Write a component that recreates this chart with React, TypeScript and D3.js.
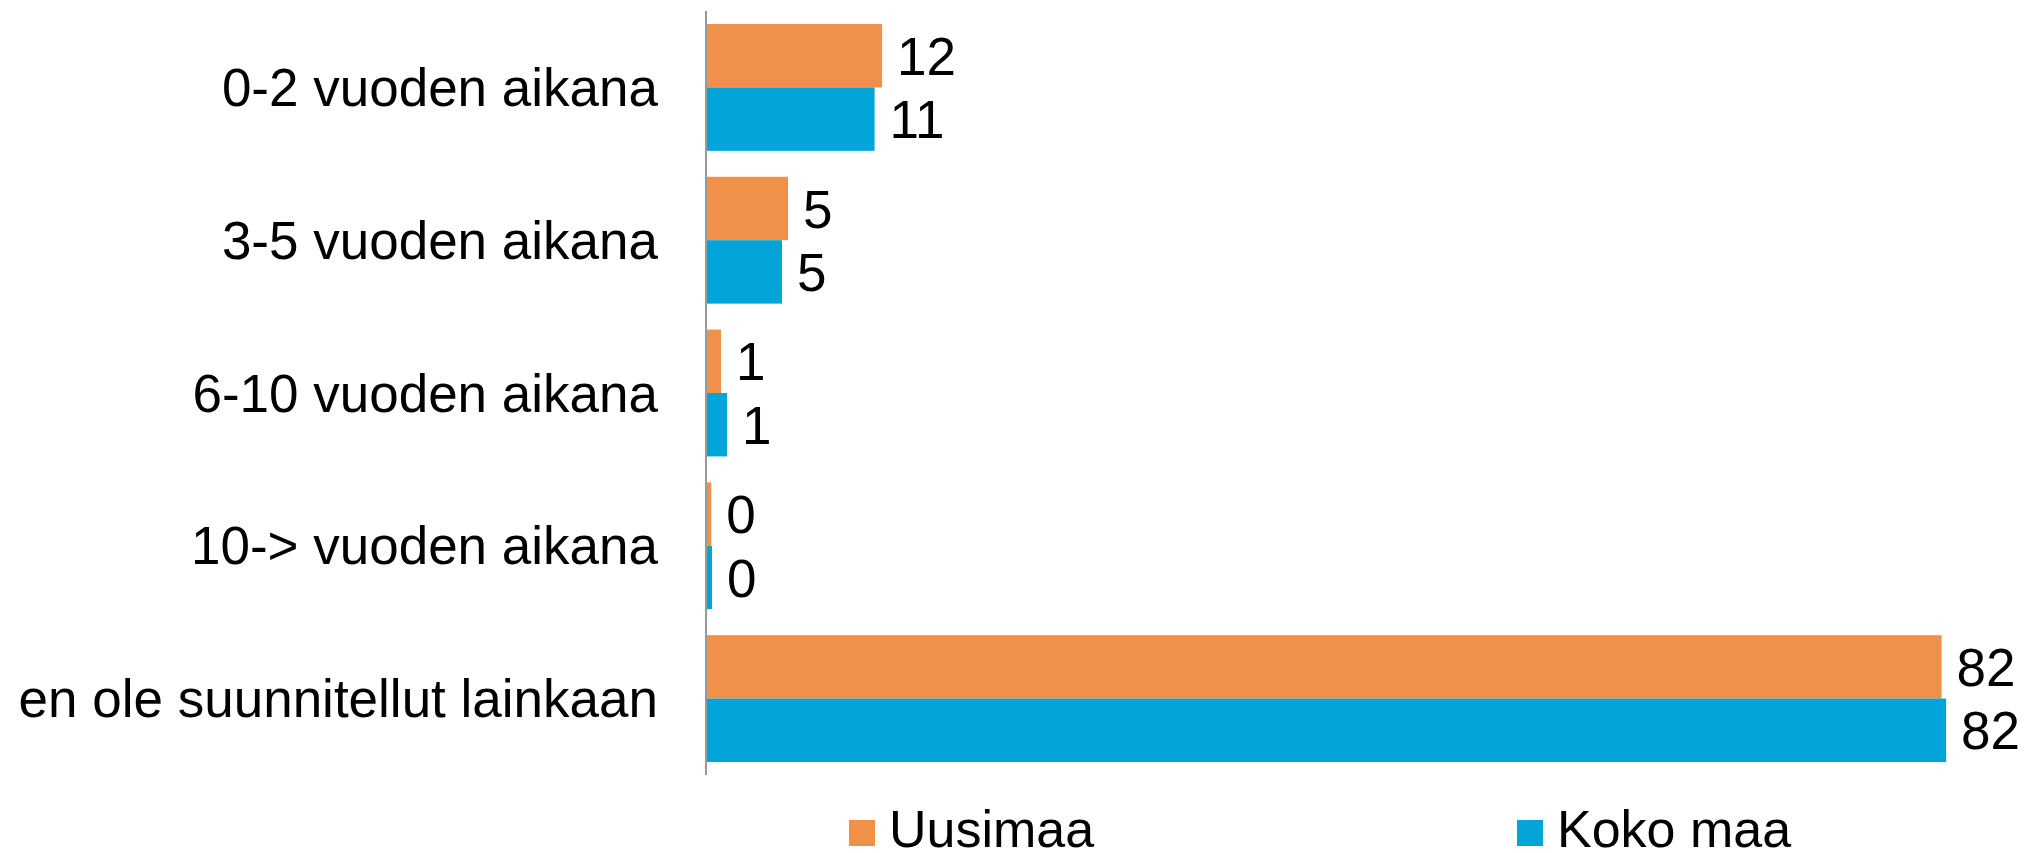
import React, { useRef, useEffect } from 'react';
import * as d3 from 'd3';

// categories (top to bottom)
const categories = [
  '0-2 vuoden aikana',
  '3-5 vuoden aikana',
  '6-10 vuoden aikana',
  '10-> vuoden aikana',
  'en ole suunnitellut lainkaan',
];
const seriesNames = ['Uusimaa', 'Koko maa'];
const seriesColors = ['#F0914A', '#02A4D9'];

// values in %
const uusimaa = [11.7, 5.45, 1.0, 0.35, 82.1];
const kokoMaa = [11.2, 5.05, 1.4, 0.4, 82.4];

const WIDTH = 2027;
const HEIGHT = 853;

const App = () => {
  const ref = useRef<SVGSVGElement>(null);

  useEffect(() => {
    const svg = d3.select(ref.current);
    svg.selectAll('*').remove();

    const font = '"Liberation Sans", Arial, sans-serif';
    const series = [uusimaa, kokoMaa];

    const xScale = d3.scaleLinear().domain([0, 100]).range([706, 706 + 1505]);
    const yScale = d3.scaleBand<string>()
      .domain(categories)
      .range([11, 775])
      .paddingInner(0.17)
      .paddingOuter(0.085);
    const inner = d3.scaleBand<string>()
      .domain(seriesNames)
      .range([0, yScale.bandwidth()]);

    // bars + value labels
    series.forEach((vals, si) => {
      const g = svg.append('g');
      g.selectAll('rect')
        .data(vals)
        .join('rect')
        .attr('x', xScale(0))
        .attr('y', (d, i) => yScale(categories[i])! + inner(seriesNames[si])!)
        .attr('width', d => xScale(d) - xScale(0))
        .attr('height', inner.bandwidth())
        .attr('fill', seriesColors[si]);

      g.selectAll('text')
        .data(vals)
        .join('text')
        .attr('x', d => xScale(d) + 15)
        .attr('y', (d, i) => yScale(categories[i])! + inner(seriesNames[si])! + inner.bandwidth() / 2)
        .attr('dy', '0.36em')
        .attr('font-family', font)
        .attr('font-size', 53)
        .attr('fill', '#000')
        .text(d => Math.round(d));
    });

    // vertical axis line
    svg.append('line')
      .attr('x1', xScale(0))
      .attr('x2', xScale(0))
      .attr('y1', 11)
      .attr('y2', 775)
      .attr('stroke', '#999')
      .attr('stroke-width', 2);

    // category labels
    svg.append('g')
      .selectAll('text')
      .data(categories)
      .join('text')
      .attr('x', 658)
      .attr('y', d => yScale(d)! + yScale.bandwidth() / 2)
      .attr('dy', '0.35em')
      .attr('text-anchor', 'end')
      .attr('font-family', font)
      .attr('font-size', 53)
      .attr('fill', '#000')
      .text(d => d);

    // legend
    const legendX = [849, 1517];
    const legend = svg.append('g');
    seriesNames.forEach((name, i) => {
      legend.append('rect')
        .attr('x', legendX[i])
        .attr('y', 820)
        .attr('width', 26)
        .attr('height', 26)
        .attr('fill', seriesColors[i]);
      legend.append('text')
        .attr('x', legendX[i] + 40)
        .attr('y', 847)
        .attr('font-family', font)
        .attr('font-size', 52)
        .attr('fill', '#000')
        .text(name);
    });
  }, []);

  return (
    <svg
      ref={ref}
      width={WIDTH}
      height={HEIGHT}
      style={{ position: 'absolute', left: 0, top: 0, background: '#fff' }}
    />
  );
};

export default App;
